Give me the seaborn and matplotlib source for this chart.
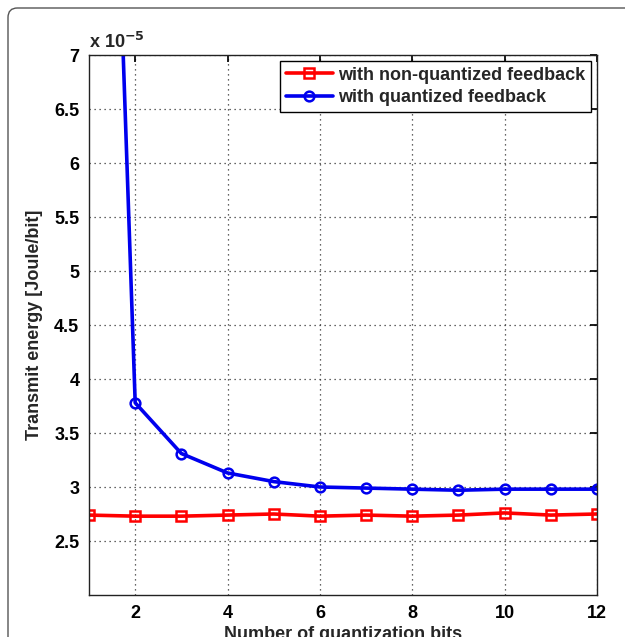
import matplotlib
matplotlib.use("Agg")
import matplotlib.pyplot as plt
import seaborn as sns
import pandas as pd
from matplotlib.patches import FancyBboxPatch

sns.set_theme(style="white")
plt.rcParams['font.family'] = ['Liberation Sans', 'DejaVu Sans']
plt.rcParams['font.weight'] = 'bold'

bits = [1, 2, 3, 4, 5, 6, 7, 8, 9, 10, 11, 12]
non_quantized = [2.74, 2.73, 2.73, 2.74, 2.75, 2.73, 2.74, 2.73, 2.74, 2.76, 2.74, 2.75]
quantized = [16.2, 3.78, 3.31, 3.13, 3.05, 3.00, 2.99, 2.98, 2.97, 2.98, 2.98, 2.98]
yticks = [2.5, 3, 3.5, 4, 4.5, 5, 5.5, 6, 6.5, 7]
xticks = [2, 4, 6, 8, 10, 12]

df = pd.DataFrame({
    "bits": bits * 2,
    "energy": non_quantized + quantized,
    "series": ["with non-quantized feedback"] * len(bits) + ["with quantized feedback"] * len(bits),
})

fig = plt.figure(figsize=(6.25, 6.37), dpi=100)
ax = fig.add_axes([89 / 625, 1 - 595 / 637, (597 - 89) / 625, (595 - 55) / 637])

# outer frame
frame = FancyBboxPatch((8 / 625, -0.1), 1.2, (637 - 8) / 637 + 0.1,
                       boxstyle="round,pad=0,rounding_size=0.015",
                       transform=fig.transFigure, fill=False,
                       edgecolor="#555555", linewidth=1.0, clip_on=False)
fig.add_artist(frame)

palette = {"with non-quantized feedback": "#ff0000", "with quantized feedback": "#0000ee"}
markers = {"with non-quantized feedback": "s", "with quantized feedback": "o"}
sns.lineplot(data=df, x="bits", y="energy", hue="series", style="series",
             palette=palette, markers=markers, dashes=False, ax=ax,
             linewidth=2.6, markersize=7, markerfacecolor="none",
             markeredgewidth=1.8, legend=True)

for line in ax.lines:
    c = line.get_color()
    line.set_markeredgecolor(c)
    line.set_markerfacecolor("none")

ax.set_xlim(1, 12)
ax.set_ylim(2, 7)
ax.set_xticks(xticks)
ax.set_yticks(yticks)
ax.set_yticklabels([f"{v:g}" for v in yticks])
ax.tick_params(axis="both", direction="in", length=5, top=True, right=True,
               labelsize=13, colors="black", pad=7)
for lab in ax.get_xticklabels() + ax.get_yticklabels():
    lab.set_fontweight("bold")
ax.grid(True, linestyle=(0, (1, 3)), color="#333333", linewidth=0.9)
for s in ax.spines.values():
    s.set_color("#222222")
    s.set_linewidth(1.0)

ax.set_xlabel("Number of quantization bits", fontsize=13, fontweight="bold", labelpad=3)
ax.set_ylabel("Transmit energy [Joule/bit]", fontsize=13, fontweight="bold", labelpad=8)

ax.text(0.0, 1.006, r"x 10$^{\mathbf{-5}}$", transform=ax.transAxes, fontsize=13,
        fontweight="bold", ha="left", va="bottom")

leg = ax.legend(loc="upper right", fontsize=13, frameon=True, fancybox=False,
                edgecolor="black", framealpha=1, borderaxespad=0.35,
                handlelength=2.6, borderpad=0.3, labelspacing=0.3, handletextpad=0.3)
leg.get_frame().set_linewidth(1.0)
for t in leg.get_texts():
    t.set_fontweight("bold")
for h in leg.legend_handles:
    h.set_markerfacecolor("none")
    h.set_markeredgecolor(h.get_color())
    h.set_linewidth(2.6)

fig.savefig("out.png", dpi=100)
